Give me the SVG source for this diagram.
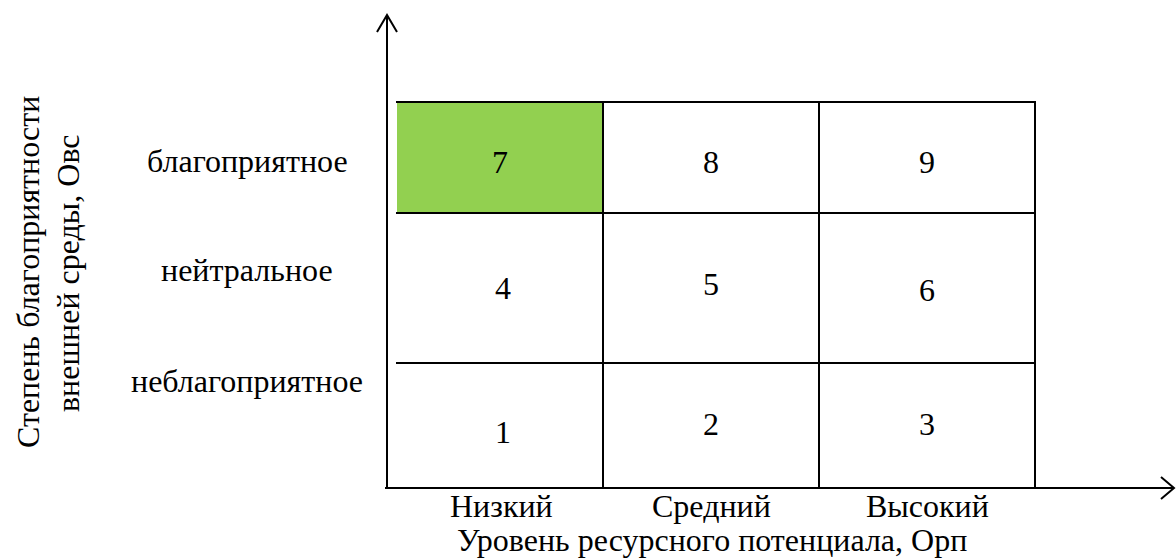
<svg xmlns="http://www.w3.org/2000/svg" width="1176" height="560" viewBox="0 0 1176 560">
  <rect width="1176" height="560" fill="#fff"/>

  <!-- matrix cells -->
  <g id="cell-7"><rect x="397" y="102" width="206" height="111" fill="#92d050"/><text x="492" y="173" font-family="Liberation Serif" font-size="32">7</text></g>
  <g id="cell-8"><text x="703" y="173" font-family="Liberation Serif" font-size="32">8</text></g>
  <g id="cell-9"><text x="919" y="173" font-family="Liberation Serif" font-size="32">9</text></g>
  <g id="cell-4"><text x="495" y="299" font-family="Liberation Serif" font-size="32">4</text></g>
  <g id="cell-5"><text x="703" y="295" font-family="Liberation Serif" font-size="32">5</text></g>
  <g id="cell-6"><text x="919" y="301" font-family="Liberation Serif" font-size="32">6</text></g>
  <g id="cell-1"><text x="495" y="443" font-family="Liberation Serif" font-size="32">1</text></g>
  <g id="cell-2"><text x="703" y="435" font-family="Liberation Serif" font-size="32">2</text></g>
  <g id="cell-3"><text x="919" y="435" font-family="Liberation Serif" font-size="32">3</text></g>

  <!-- row labels -->
  <g id="row-labels">
    <text x="147" y="172" font-family="Liberation Serif" font-size="32">благоприятное</text>
    <text x="161" y="281" font-family="Liberation Serif" font-size="32">нейтральное</text>
    <text x="131" y="392" font-family="Liberation Serif" font-size="32">неблагоприятное</text>
  </g>

  <!-- column labels -->
  <g id="col-labels">
    <text x="450" y="517" font-family="Liberation Serif" font-size="32">Низкий</text>
    <text x="652" y="517" font-family="Liberation Serif" font-size="32">Средний</text>
    <text x="866" y="517" font-family="Liberation Serif" font-size="32">Высокий</text>
    <text x="457" y="551" font-family="Liberation Serif" font-size="32">Уровень ресурсного потенциала, Орп</text>
  </g>

  <!-- vertical axis title -->
  <g id="y-title">
    <text transform="translate(39,448) rotate(-90)" font-family="Liberation Serif" font-size="32">Степень благоприятности</text>
    <text transform="translate(79,412) rotate(-90)" font-family="Liberation Serif" font-size="32">внешней среды, Овс</text>
  </g>

  <!-- grid lines -->
  <g id="grid" stroke="#000" stroke-width="2" fill="none">
    <line x1="396" y1="102" x2="1036" y2="102"/>
    <line x1="396" y1="213" x2="1036" y2="213"/>
    <line x1="396" y1="363" x2="1036" y2="363"/>
    <line x1="603" y1="101" x2="603" y2="488"/>
    <line x1="819" y1="101" x2="819" y2="488"/>
    <line x1="1035" y1="101" x2="1035" y2="488"/>
  </g>

  <!-- axes -->
  <g id="connectors" stroke="#000" stroke-width="2" fill="none">
    <line x1="387" y1="15" x2="387" y2="489"/>
    <polyline points="377,32 387,15 397,32"/>
    <line x1="385" y1="488" x2="1173" y2="488"/>
    <polyline points="1161,477 1174,488 1161,499"/>
  </g>
</svg>
